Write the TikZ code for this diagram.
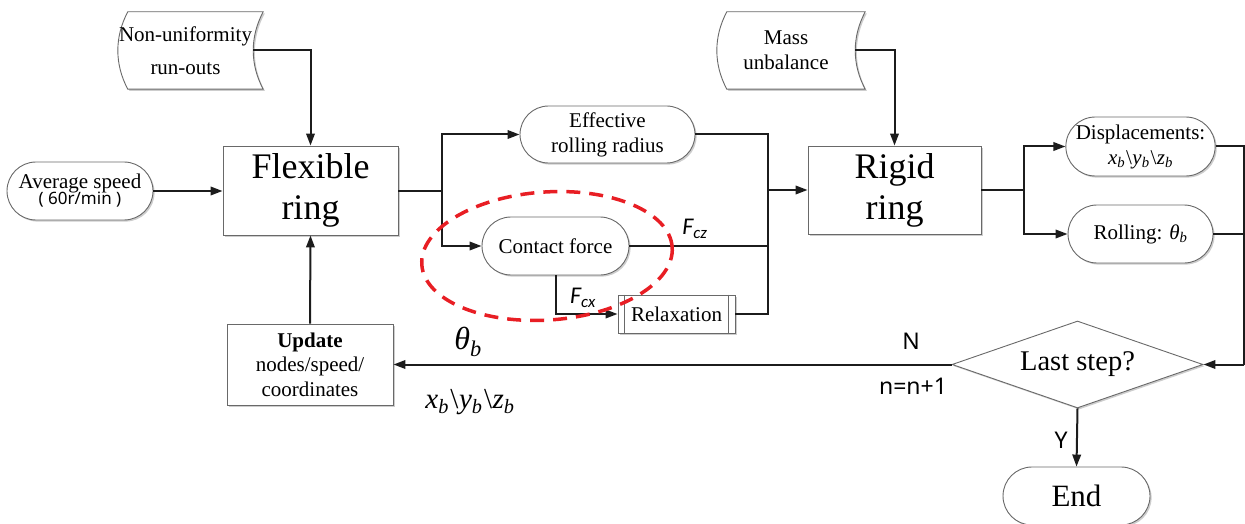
\documentclass[tikz,border=0pt]{standalone}
\usepackage{fontspec}
\setmainfont{Liberation Serif}
\newfontfamily\labelsans{Noto Sans}
\newfontfamily\forcesans{Carlito}
\usetikzlibrary{arrows.meta,shapes.misc,shapes.geometric,calc,shadows}

% italic symbol with italic subscript, set in the serif text font
\newcommand{\ivar}[2]{\textit{#1}\textsubscript{\textit{#2}}}
\newcommand{\xyzb}{\ivar{x}{b}\kern0.05em\textbackslash\kern0.02em\ivar{y}{b}\kern0.05em\textbackslash\kern0.02em\ivar{z}{b}}

\definecolor{linec}{RGB}{28,28,28}
\definecolor{framec}{RGB}{105,105,105}
\definecolor{shadowc}{RGB}{205,205,205}
\definecolor{dashred}{RGB}{232,30,36}

\pgfdeclarelayer{bg}
\pgfsetlayers{bg,main}

\tikzset{
  conn/.style={line width=2pt, draw=linec},
  arr/.style={conn, -{Triangle[length=12pt,width=8.5pt]}},
  boxshadow/.style={drop shadow={shadow xshift=1.6pt,shadow yshift=-1.6pt,fill=shadowc,opacity=1}},
  framed/.style={draw=framec, line width=0.9pt, fill=white, boxshadow},
  procbox/.style={rectangle, framed, align=center, inner sep=0pt},
  termbox/.style={rounded rectangle, framed, align=center, inner sep=0pt},
  datatext/.style={align=center, inner sep=0pt},
  txt/.style={font=\fontsize{21}{25}\selectfont},
  bigtxt/.style={font=\fontsize{36}{41}\selectfont},
  forcelbl/.style={font=\forcesans\itshape\fontsize{24}{24}\selectfont, inner sep=0pt},
  sanslbl/.style={font=\labelsans\fontsize{23}{24}\selectfont, inner sep=0pt},
  mathlbl/.style={inner sep=0pt},
}

\begin{document}
\begin{tikzpicture}[x=1pt,y=-1pt]
\useasboundingbox (0,0) rectangle (1245,524);
\clip (0,0) rectangle (1245,524);

% ---- input data (stored-data symbols) ----
\node[datatext, font=\fontsize{21}{33}\selectfont, minimum width=135pt, minimum height=77pt] (nu) at (185.5,50.5) {Non-uniformity\\run-outs};
\node[datatext, txt, minimum width=138pt, minimum height=77pt] (mass) at (786,50.5) {Mass\\unbalance};

% ---- process blocks ----
\node[termbox, font=\fontsize{21}{21}\selectfont, minimum width=146pt, minimum height=58pt] (avg) at (80,191)
  {Average speed\\[-5pt]{\labelsans\fontsize{17}{17}\selectfont ( 60r/min )}};
\node[procbox, bigtxt, minimum width=175pt, minimum height=89pt] (flex) at (310.5,190.5) {Flexible\\ring};
\node[termbox, txt, minimum width=175pt, minimum height=57pt] (eff) at (607.5,134.5) {Effective\\rolling radius};
\node[termbox, txt, minimum width=147pt, minimum height=58pt] (cf) at (555.5,246) {Contact force};
\node[procbox, txt, minimum width=117pt, minimum height=38pt] (rel) at (676.5,314) {Relaxation};
\node[procbox, bigtxt, minimum width=173pt, minimum height=88pt] (rigid) at (894.5,190) {Rigid\\ring};
\node[termbox, txt, minimum width=145pt, minimum height=59pt] (disp) at (1140.5,146.5) {Displacements:\\\xyzb};
\node[termbox, txt, minimum width=145pt, minimum height=58pt] (roll) at (1140.5,234) {Rolling: \ivar{θ}{b}};
\node[diamond, aspect=3, framed, inner sep=0pt, font=\fontsize{28.5}{30}\selectfont, minimum width=251pt, minimum height=87pt] (dia) at (1077.5,364.5) {Last step?};
\node[termbox, font=\fontsize{31}{32}\selectfont, minimum width=147pt, minimum height=58pt] (end) at (1076.5,496) {End};
\node[procbox, font=\fontsize{21}{24.5}\selectfont, minimum width=166pt, minimum height=81pt] (upd) at (310,364.5)
  {\textbf{Update}\\nodes/speed/\\coordinates};

% inner bars of the relaxation block
\draw[draw=framec, line width=0.9pt] ($(rel.north west)+(7,0)$) -- ($(rel.south west)+(7,0)$);
\draw[draw=framec, line width=0.9pt] ($(rel.north east)+(-7,0)$) -- ($(rel.south east)+(-7,0)$);

% stored-data outlines, drawn behind their texts
\begin{pgfonlayer}{bg}
\foreach \d in {nu,mass}{
  \draw[framed]
    ($(\d.north west)+(10,0)$) -- ($(\d.north east)+(10,0)$)
    .. controls ($(\d.north east)+(-3.3,25)$) and ($(\d.south east)+(-3.3,-25)$) .. ($(\d.south east)+(10,0)$)
    -- ($(\d.south west)+(10,0)$)
    .. controls ($(\d.south west)+(-3.3,-25)$) and ($(\d.north west)+(-3.3,25)$) .. cycle;
}
\end{pgfonlayer}

% ---- junction points ----
\coordinate (j1) at ($(flex.east)+(44,0)$);
\coordinate (j2) at ($(rigid.west)+(-40,0)$);
\coordinate (j3) at ($(rigid.east)+(43,0)$);
\coordinate (rc) at ($(dia.east)+(41,0)$);

% ---- connectors ----
\draw[arr] (avg.east) -- (avg.east -| flex.west);
\draw[arr] (nu.east) -| (flex.north);
\draw[conn] (flex.east) -- (j1);
\draw[arr] (j1) |- (eff.west);
\draw[arr] (j1) |- (cf.west);
\draw[conn] (eff.east) -| (j2);
\draw[conn] (cf.east) -- (cf.east -| j2);
\draw[conn] (rel.east) -| (j2);
\draw[arr] (j2) -- (rigid.west);
\draw[arr] (cf.south) |- (rel.west);
\draw[arr] (mass.east) -| (rigid.north);
\draw[conn] (rigid.east) -- (j3);
\draw[arr] (j3) |- (disp.west);
\draw[arr] (j3) |- (roll.west);
\draw[conn] (disp.east) -| (rc);
\draw[conn] (roll.east) -- (roll.east -| rc);
\draw[arr] (rc) -- (dia.east);
\draw[arr] (dia.west) -- (upd.east);
\draw[arr] (dia.south) -- (end.north);
\draw[arr] (upd.north) -- (flex.south);

% ---- connector labels ----
\node[forcelbl] (fcz) at (695,229) {F\textsubscript{cz}};
\node[forcelbl] (fcx) at (583,298) {F\textsubscript{cx}};
\node[sanslbl] (nlbl) at (911,341) {N};
\node[sanslbl] (inc) at (913,386) {n=n+1};
\node[sanslbl] (ylbl) at (1061,440) {Y};
\node[mathlbl, font=\fontsize{32}{32}\selectfont] (thlbl) at (468,342) {\ivar{θ}{b}};
\node[mathlbl, font=\fontsize{29}{29}\selectfont] (xyz) at (470,402) {\xyzb};

% ---- highlighted contact-force region ----
\node[ellipse, draw=dashred, line width=3.5pt, dash pattern=on 14pt off 9pt,
      minimum width=251pt, minimum height=128pt, inner sep=0pt, rotate=4] (hl) at (547,256) {};
\end{tikzpicture}
\end{document}
